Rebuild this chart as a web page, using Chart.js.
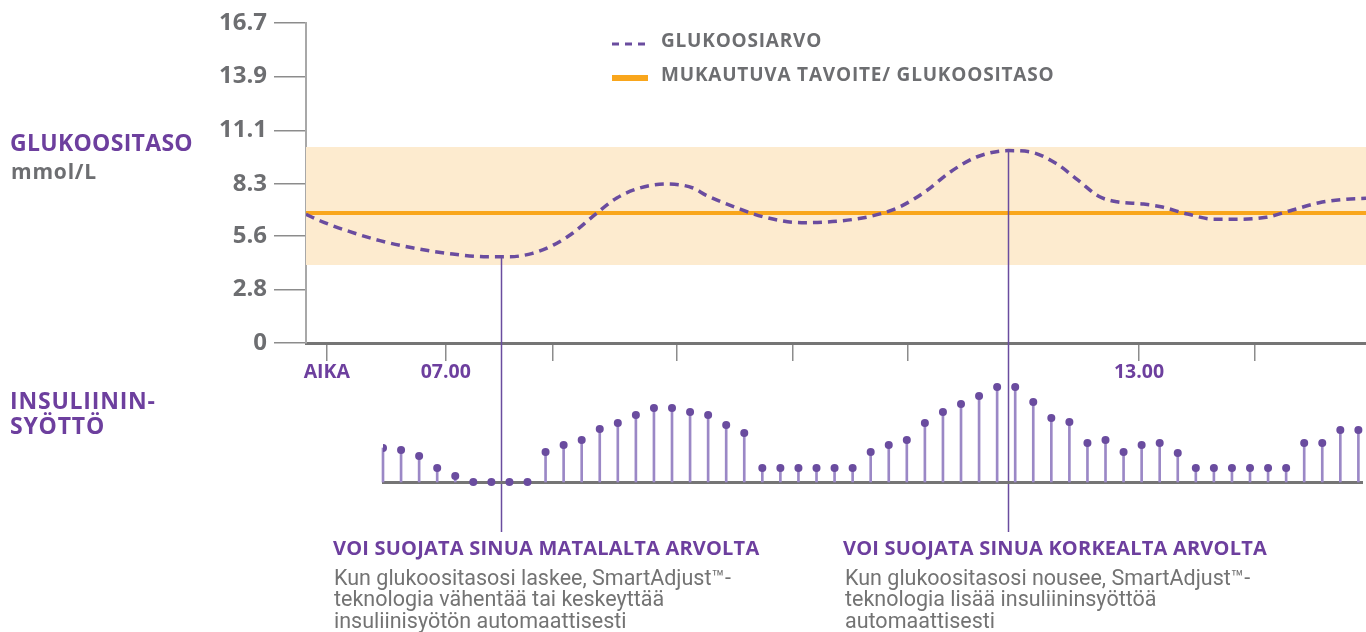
<!DOCTYPE html>
<html lang="fi">
<head>
<meta charset="utf-8">
<title>Glukoositaso ja insuliininsyöttö</title>
<script src="https://cdn.jsdelivr.net/npm/chart.js@4.4.1/dist/chart.umd.min.js"></script>
<style>
  html, body { margin: 0; padding: 0; background: #fff; overflow: hidden; }
  #wrap { position: relative; width: 1366px; height: 632px; }
  canvas { position: absolute; left: 0; top: 0; }
  .lbl { position: absolute; white-space: nowrap; font-family: "Open Sans", sans-serif; font-weight: 700; }
  .purple { color: #6d3f9e; }
  .gray { color: #6d6e71; }
  .body { position: absolute; white-space: nowrap; font-family: Roboto, sans-serif; font-weight: 400;
          font-size: 21.5px; line-height: 21.3px; color: #737373; }
</style>
</head>
<body>
<div id="wrap">
  <canvas id="glucose" width="1366" height="632"></canvas>
  <canvas id="insulin" width="1366" height="632"></canvas>

  <div class="lbl purple" style="left:10px; top:131px; font-size:23px; line-height:23px; letter-spacing:0.3px;">GLUKOOSITASO</div>
  <div class="lbl gray" style="left:11px; top:161px; font-size:21px; line-height:21px; letter-spacing:0.8px;">mmol/L</div>
  <div class="lbl purple" style="left:10px; top:388px; font-size:23px; line-height:25px; letter-spacing:0.8px;">INSULIININ-<br>SYÖTTÖ</div>

  <svg style="position:absolute; left:612px; top:39px;" width="40" height="10">
    <line x1="0" y1="5" x2="36" y2="5" stroke="#6a4c9f" stroke-width="3" stroke-dasharray="7,6"/>
  </svg>
  <div class="lbl gray" style="left:661px; top:31px; font-size:19px; line-height:19px; letter-spacing:0.8px;">GLUKOOSIARVO</div>
  <svg style="position:absolute; left:612px; top:73px;" width="40" height="10">
    <line x1="0" y1="5" x2="36" y2="5" stroke="#f9a61c" stroke-width="6"/>
  </svg>
  <div class="lbl gray" style="left:661px; top:65px; font-size:19px; line-height:19px; letter-spacing:0.8px;">MUKAUTUVA TAVOITE/ GLUKOOSITASO</div>

  <div id="cap-low" class="lbl purple" style="left:333px; top:538px; font-size:20px; line-height:20px; letter-spacing:0.2px;">VOI SUOJATA SINUA MATALALTA ARVOLTA</div>
  <div class="body" style="left:334px; top:567px;">Kun glukoositasosi laskee, SmartAdjust™-<br>teknologia vähentää tai keskeyttää<br>insuliinisyötön automaattisesti</div>

  <div id="cap-high" class="lbl purple" style="left:843px; top:538px; font-size:20px; line-height:20px; letter-spacing:0.2px;">VOI SUOJATA SINUA KORKEALTA ARVOLTA</div>
  <div class="body" style="left:845px; top:567px;">Kun glukoositasosi nousee, SmartAdjust™-<br>teknologia lisää insuliininsyöttöä<br>automaattisesti</div>
</div>

<script>
// glukoosikäyrä: aika tunteina, arvo mmol/L
const glucoseTimes  = [5.79, 5.91, 6.17, 6.43, 6.71, 7.06, 7.36, 7.55, 7.75, 7.93, 8.10, 8.27, 8.48, 8.68,
                       8.91, 9.14, 9.25, 9.52, 9.75, 10.08, 10.43, 10.69, 10.92, 11.15, 11.37, 11.60,
                       11.87, 12.06, 12.28, 12.47, 12.66, 12.81, 13.04, 13.19, 13.42, 13.65, 13.87,
                       14.10, 14.33, 14.56, 14.78, 14.965];
const glucoseValues = [6.72, 6.38, 5.81, 5.34, 4.97, 4.64, 4.50, 4.50, 4.68, 5.11, 5.74, 6.59, 7.57, 8.09,
                       8.30, 8.09, 7.72, 7.05, 6.58, 6.28, 6.38, 6.63, 7.08, 7.90, 8.94, 9.72,
                       10.04, 9.97, 9.38, 8.51, 7.63, 7.37, 7.25, 7.11, 6.73, 6.46, 6.46,
                       6.56, 6.94, 7.32, 7.50, 7.55];

const targetLevel = 6.78;            // mukautuva tavoite
const targetRange = [4.07, 10.23];   // vaalea alue

const yTickValues = [0, 2.8, 5.6, 8.3, 11.1, 13.9, 16.7];
const yTickLabels = ['0', '2.8', '5.6', '8.3', '11.1', '13.9', '16.7'];

const xTickValues = [5.97, 7, 7.93, 9, 10, 11, 13, 14];
const xTickLabels = ['AIKA', '07.00', '', '', '', '', '13.00', ''];
const X_MIN = 5.79;
const X_MAX = 14.965;

// insuliininsyöttö, yksi arvo per jakso
const insulinDoses = [34, 32, 26, 14, 6, 0, 0, 0, 0, 30, 37, 42, 53, 59, 67, 74, 74, 70, 67, 57, 49,
                      14, 14, 14, 14, 14, 14, 30, 37, 42, 59, 70, 78, 86, 95, 95, 80, 64, 60, 39, 42,
                      30, 37, 39, 29, 14, 14, 14, 14, 14, 14, 39, 39, 52, 52];

// pystyviivat tekstien kohdalle
const markerTimes   = [7.474, 11.866];
const markerGlucose = [4.5, 10.04];
const markerCaptions = ['cap-low', 'cap-high'];

const PURPLE = '#6a4c9f';
const ORANGE = '#f9a61c';
const BAND   = '#fdebcf';
const GRAY   = '#6d6e71';
const AXIS   = '#8c8c8c';

const leaderLines = {
    id: 'leaderLines',
    afterDatasetsDraw(chart) {
        const { ctx, scales: { x, y } } = chart;
        ctx.save();
        ctx.strokeStyle = PURPLE;
        ctx.lineWidth = 1.5;
        markerTimes.forEach((t, i) => {
            const px = Math.round(x.getPixelForValue(t)) + 0.5;
            const y1 = y.getPixelForValue(markerGlucose[i]);
            const y2 = document.getElementById(markerCaptions[i]).offsetTop - 6;
            ctx.beginPath();
            ctx.moveTo(px, y1);
            ctx.lineTo(px, y2);
            ctx.stroke();
        });
        ctx.restore();
    },
};

const flat = (v) => [{ x: X_MIN, y: v }, { x: X_MAX, y: v }];

new Chart(document.getElementById('glucose'), {
    type: 'line',
    data: {
        datasets: [
            {
                label: 'GLUKOOSIARVO',
                data: glucoseTimes.map((t, i) => ({ x: t, y: glucoseValues[i] })),
                borderColor: PURPLE,
                borderWidth: 3.5,
                borderDash: [9, 6],
                pointRadius: 0,
                cubicInterpolationMode: 'monotone',
                fill: false,
                order: 0,
            },
            {
                label: 'MUKAUTUVA TAVOITE/ GLUKOOSITASO',
                data: flat(targetLevel),
                borderColor: ORANGE,
                borderWidth: 4,
                pointRadius: 0,
                fill: false,
                order: 1,
            },
            {
                label: 'band-top',
                data: flat(targetRange[1]),
                borderColor: 'transparent',
                borderWidth: 0,
                pointRadius: 0,
                backgroundColor: BAND,
                fill: '+1',
                order: 2,
            },
            {
                label: 'band-bottom',
                data: flat(targetRange[0]),
                borderColor: 'transparent',
                borderWidth: 0,
                pointRadius: 0,
                fill: false,
                order: 3,
            },
        ],
    },
    options: {
        responsive: false,
        animation: false,
        layout: { padding: { top: 23, left: 0, right: 0, bottom: 0 } },
        plugins: { legend: { display: false }, tooltip: { enabled: false } },
        scales: {
            x: {
                type: 'linear',
                min: X_MIN,
                max: X_MAX,
                afterBuildTicks: (s) => { s.ticks = xTickValues.map((v) => ({ value: v })); },
                afterFit: (s) => { s.height = 289; },
                ticks: {
                    autoSkip: false,
                    maxRotation: 0,
                    padding: 0,
                    color: '#6d3f9e',
                    font: { family: 'Open Sans', size: 19.5, weight: 'bold' },
                    callback: (v, i) => xTickLabels[i],
                },
                grid: { drawOnChartArea: false, tickLength: 18, color: AXIS, lineWidth: 1.5 },
                border: { color: '#757575', width: 3 },
            },
            y: {
                min: 0,
                max: 16.7,
                afterBuildTicks: (s) => { s.ticks = yTickValues.map((v) => ({ value: v })); },
                afterFit: (s) => { s.width = 306; },
                ticks: {
                    padding: 7,
                    color: GRAY,
                    font: { family: 'Open Sans', size: 24, weight: 'bold' },
                    callback: (v, i) => yTickLabels[i],
                },
                grid: { drawOnChartArea: false, tickLength: 32, color: AXIS, lineWidth: 1.5 },
                border: { color: '#a8a8a8', width: 2 },
            },
        },
    },
    plugins: [leaderLines],
});

const insulinPoints = insulinDoses.map((v, i) => ({ x: i, y: v }));

new Chart(document.getElementById('insulin'), {
    type: 'bar',
    data: {
        datasets: [
            {
                type: 'line',
                data: insulinPoints,
                showLine: false,
                pointRadius: 4,
                pointBorderWidth: 0,
                pointBackgroundColor: PURPLE,
                clip: { left: 0, top: 10, right: 10, bottom: 10 },
                order: 0,
            },
            {
                type: 'bar',
                data: insulinPoints,
                backgroundColor: '#9b88c6',
                barThickness: 2,
                clip: false,
                order: 1,
            },
        ],
    },
    options: {
        responsive: false,
        animation: false,
        layout: { padding: { left: 383, top: 382, right: 0, bottom: 150 } },
        plugins: { legend: { display: false }, tooltip: { enabled: false } },
        scales: {
            x: {
                type: 'linear',
                min: 0,
                max: 54.2,
                offset: false,
                afterFit: (s) => { s.height = 0; },
                ticks: { display: false },
                grid: { display: false, offset: false },
                border: { color: '#757575', width: 3 },
            },
            y: { display: false, min: 0, max: 100 },
        },
    },
});
</script>
</body>
</html>
